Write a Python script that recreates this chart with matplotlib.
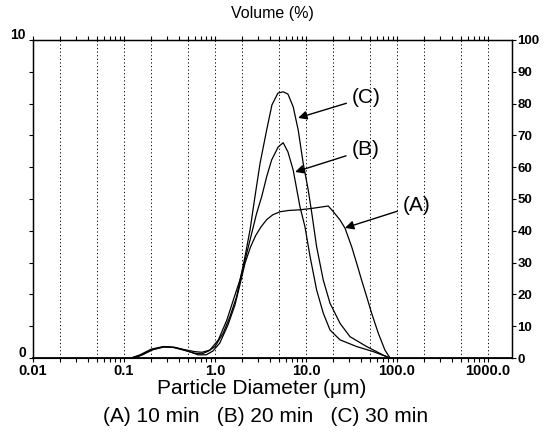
import matplotlib
matplotlib.use("Agg")
import matplotlib.pyplot as plt
import matplotlib.transforms as mtransforms
from matplotlib.ticker import FixedLocator, LogLocator, NullFormatter

plt.rcParams['font.family'] = ['Liberation Sans', 'DejaVu Sans']

# --- data (diameter in um, volume in %) ---
d_a = [0.13, 0.16, 0.21, 0.28, 0.37, 0.5, 0.65, 0.8, 0.95, 1.13, 1.39, 1.66, 1.88, 2.14,
       2.45, 2.8, 3.2, 3.7, 4.3, 5.2, 6.5, 8.6, 12.0, 17.6, 20.0, 23.7, 26.9, 31.8, 36.1,
       40.9, 46.5, 52.7, 62.4, 73.8, 84.0]
v_a = [0.0, 0.1, 0.27, 0.35, 0.33, 0.22, 0.1, 0.1, 0.22, 0.47, 1.04, 1.67, 2.30, 2.98,
       3.48, 3.85, 4.12, 4.35, 4.50, 4.60, 4.64, 4.66, 4.71, 4.78, 4.60, 4.34, 4.08, 3.50,
       2.98, 2.45, 1.93, 1.41, 0.78, 0.25, 0.0]

d_b = [0.12, 0.15, 0.2, 0.27, 0.35, 0.45, 0.6, 0.72, 0.88, 1.09, 1.35, 1.59, 1.88, 2.14,
       2.43, 2.87, 3.26, 3.70, 4.20, 4.96, 5.62, 6.34, 7.24, 8.59, 9.75, 11.1, 13.1,
       15.5, 18.4, 23.7, 36.1, 55.0, 84.0]
v_b = [0.0, 0.1, 0.28, 0.36, 0.34, 0.27, 0.2, 0.18, 0.25, 0.57, 1.19, 1.82, 2.45, 3.08,
       3.71, 4.55, 5.07, 5.70, 6.23, 6.64, 6.77, 6.48, 5.91, 4.76, 4.13, 3.19, 2.14,
       1.41, 0.88, 0.57, 0.36, 0.20, 0.0]

d_c = [0.12, 0.15, 0.2, 0.27, 0.35, 0.45, 0.6, 0.72, 0.85, 1.0, 1.23, 1.46, 1.73, 1.96,
       2.14, 2.43, 2.75, 3.13, 3.70, 4.23, 4.92, 5.62, 6.34, 7.24, 8.22, 9.33, 10.6,
       11.6, 13.1, 15.5, 18.4, 23.7, 30.5, 46.5, 70.8, 84.0]
v_c = [0.0, 0.08, 0.25, 0.35, 0.33, 0.25, 0.15, 0.13, 0.22, 0.36, 0.78, 1.30, 1.93, 2.66,
       3.19, 4.03, 5.07, 6.12, 7.17, 7.96, 8.33, 8.37, 8.30, 7.90, 7.17, 6.12, 5.28,
       4.55, 3.50, 2.45, 1.72, 1.09, 0.67, 0.36, 0.09, 0.0]

x_ticks = [0.01, 0.1, 1.0, 10.0, 100.0, 1000.0]
x_labels = ["0.01", "0.1", "1.0", "10.0", "100.0", "1000.0"]
grid_x = [0.02, 0.05, 0.1, 0.2, 0.5, 1, 2, 5, 10, 20, 50, 100, 200, 500, 1000]
right_ticks = list(range(0, 101, 10))

fig = plt.figure(figsize=(5.45, 4.36), dpi=100)
ax = fig.add_axes([33 / 545, 78 / 436, 479 / 545, 318 / 436])

for d, v in [(d_a, v_a), (d_b, v_b), (d_c, v_c)]:
    ax.plot(d, v, color="black", lw=0.9)

ax.set_xscale("log")
ax.set_xlim(0.01, 1840)
ax.set_ylim(0, 10)

for g in grid_x:
    ax.axvline(g, color="black", lw=0.7, ls=(0, (1.2, 2.5)), zorder=0)

ax.xaxis.set_major_locator(FixedLocator(x_ticks))
ax.set_xticklabels(x_labels, fontsize=10.5, fontweight="bold")
ax.xaxis.set_minor_locator(LogLocator(base=10, subs=range(2, 10), numticks=20))
ax.xaxis.set_minor_formatter(NullFormatter())
ax.tick_params(axis="x", which="both", direction="out", length=3, width=0.8,
               top=True, pad=1)

ax.set_yticks(range(0, 11))
ax.set_yticklabels(["0"] + [""] * 9 + ["10"], fontsize=10, fontweight="bold")
ax.tick_params(axis="y", direction="out", length=3, width=0.8, pad=2)
# left labels sit a little above their ticks in the original
shift = mtransforms.ScaledTranslation(0, 5 / 72, fig.dpi_scale_trans)
for lab in ax.get_yticklabels():
    lab.set_transform(lab.get_transform() + shift)

for s in ax.spines.values():
    s.set_linewidth(1.0)
ax.spines["bottom"].set_linewidth(1.3)

ax2 = ax.twinx()
ax2.set_ylim(0, 100)
ax2.set_yticks(right_ticks)
ax2.set_yticklabels([str(t) for t in right_ticks], fontsize=9.5, fontweight="bold")
ax2.tick_params(axis="y", direction="out", length=3, width=0.8, pad=1)

ax.set_title("Volume (%)", fontsize=11.5, pad=16)
ax.set_xlabel("Particle Diameter (\u03bcm)", fontsize=15)
ax.xaxis.set_label_coords(0.478, -0.066, transform=ax.transAxes)
ax.xaxis.label.set_va("top")
fig.text(0.487, 0.044, "(A) 10 min   (B) 20 min   (C) 30 min", fontsize=15,
         ha="center", va="center")

# curve labels with arrows
arrow = dict(arrowstyle="-|>", color="black", lw=1.0, mutation_scale=13,
             shrinkA=2, shrinkB=0)
ax.annotate("(C)", xy=(8.2, 7.55), xytext=(46, 8.2), fontsize=15,
            ha="center", va="center", arrowprops=arrow)
ax.annotate("(B)", xy=(7.6, 5.85), xytext=(45, 6.55), fontsize=15,
            ha="center", va="center", arrowprops=arrow)
ax.annotate("(A)", xy=(26.8, 4.09), xytext=(165, 4.81), fontsize=15,
            ha="center", va="center", arrowprops=arrow)

fig.savefig("out.png", dpi=100)
